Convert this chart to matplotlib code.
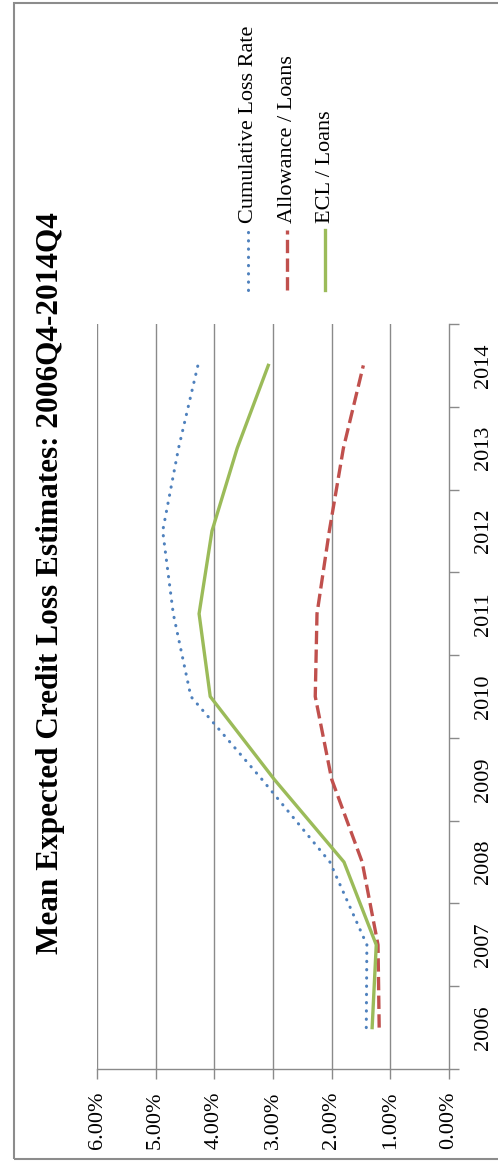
import matplotlib
matplotlib.use("Agg")
import matplotlib.pyplot as plt
from matplotlib.lines import Line2D
from matplotlib.patches import Rectangle
from matplotlib.ticker import FixedLocator, FuncFormatter

years = ["2006", "2007", "2008", "2009", "2010", "2011", "2012", "2013", "2014"]
cum_loss = [1.41, 1.40, 2.03, 3.19, 4.40, 4.70, 4.88, 4.61, 4.28]
allowance = [1.19, 1.21, 1.48, 2.00, 2.28, 2.25, 2.04, 1.80, 1.46]
ecl = [1.31, 1.24, 1.79, 2.98, 4.07, 4.26, 4.04, 3.61, 3.08]
pct_ticks = [0, 1, 2, 3, 4, 5, 6]

labels = ["Cumulative Loss Rate", "Allowance / Loans", "ECL / Loans"]
blue, red, green = "#4F81BD", "#C0504D", "#9BBB59"
grid_col = "#8a8a8a"

dot_style = dict(lw=2.2, linestyle=(0, (0.1, 2.6)), dash_capstyle="round")
dash_style = dict(lw=2.4, linestyle=(0, (4, 1.6)))
solid_style = dict(lw=2.4)

plt.rcParams["font.family"] = ["Liberation Serif", "DejaVu Serif"]

W, H = 498, 1161
fig = plt.figure(figsize=(W / 100, H / 100), dpi=100)

# plot area (pixel box converted to figure fractions)
left, right, top, bottom = 97, 449, 324, 1069
ax = fig.add_axes([left / W, 1 - bottom / H, (right - left) / W, (bottom - top) / H])

pos = list(range(len(years)))
ax.plot(cum_loss, pos, color=blue, zorder=3, **dot_style)
ax.plot(allowance, pos, color=red, zorder=3, **dash_style)
ax.plot(ecl, pos, color=green, zorder=4, **solid_style)

ax.set_xlim(6, 0)
ax.set_ylim(-0.5, len(years) - 0.5)

for s in ["top", "left"]:
    ax.spines[s].set_visible(False)
for s in ["right", "bottom"]:
    ax.spines[s].set_color(grid_col)
    ax.spines[s].set_linewidth(1.0)

ax.xaxis.set_major_locator(FixedLocator(pct_ticks))
ax.xaxis.set_major_formatter(FuncFormatter(lambda v, p: f"{v:.2f}%"))
ax.tick_params(axis="x", direction="out", length=7, width=1.0, color=grid_col,
               labelsize=16, pad=9, labelrotation=90)
for v in pct_ticks[1:]:
    ax.axvline(v, color=grid_col, lw=1.0, zorder=1)

ax.yaxis.tick_right()
ax.yaxis.set_major_locator(FixedLocator([i - 0.5 for i in range(len(years) + 1)]))
ax.yaxis.set_major_formatter(FuncFormatter(lambda v, p: ""))
ax.yaxis.set_minor_locator(FixedLocator(pos))
ax.yaxis.set_minor_formatter(FuncFormatter(lambda v, p: years[int(round(v))]))
ax.tick_params(axis="y", which="major", direction="out", length=7, width=1.0, color=grid_col)
ax.tick_params(axis="y", which="minor", length=0, pad=18, labelsize=16)
for t in ax.yaxis.get_minorticklabels():
    t.set_rotation(90)
    t.set_va("center")

fig.text(51 / W, 1 - 583 / H, "Mean Expected Credit Loss Estimates: 2006Q4-2014Q4",
         rotation=90, ha="center", va="center", fontsize=22.5, fontweight="bold")

# legend drawn vertically
entries = [(248, blue, dot_style), (287, red, dash_style), (325, green, solid_style)]
for (x, c, kw), lab in zip(entries, labels):
    fig.add_artist(Line2D([x / W, x / W], [1 - 290 / H, 1 - 230 / H],
                          transform=fig.transFigure, color=c, **kw))
    fig.text(x / W, 1 - 223 / H, lab, rotation=90, ha="center", va="bottom",
             fontsize=16)

fig.add_artist(Rectangle((14 / W, 1 - 1159 / H), 1.2, (1159 - 3) / H,
                         transform=fig.transFigure, fill=False,
                         edgecolor="#8c8c8c", lw=1.5))

fig.savefig("out.png", dpi=100)
